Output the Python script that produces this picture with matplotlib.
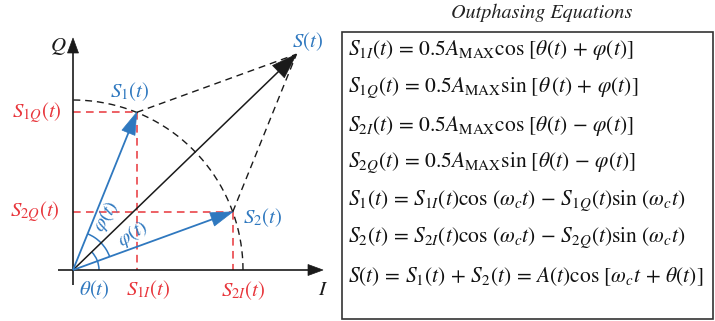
import numpy as np
import matplotlib
matplotlib.use("Agg")
import matplotlib.pyplot as plt
from matplotlib.patches import Polygon, Rectangle, Arc

plt.rcParams['mathtext.fontset'] = 'stix'
plt.rcParams['font.family'] = ['STIXGeneral', 'DejaVu Serif']

# ---- diagram data (phasor values) ----
A_HALF = 1.0          # 0.5*A_MAX, radius of the constant envelope circle
THETA_DEG = 44.0      # theta(t)
PHI_DEG = 24.0        # phi(t)

title_text = "Outphasing Equations"
equations = [
    r"$S_{1I}(t)\,=\,0.5A_{\mathrm{MAX}}\cos\,\left[\theta(t)\,+\,\varphi(t)\right]$",
    r"$S_{1Q}(t)\,=\,0.5A_{\mathrm{MAX}}\sin\,\left[\theta\,(t)\,+\,\varphi(t)\right]$",
    r"$S_{2I}(t)\,=\,0.5A_{\mathrm{MAX}}\cos\,\left[\theta(t)\,-\,\varphi(t)\right]$",
    r"$S_{2Q}(t)\,=\,0.5A_{\mathrm{MAX}}\sin\,\left[\theta(t)\,-\,\varphi(t)\right]$",
    r"$S_1(t)\,=\,S_{1I}(t)\cos\,\left(\omega_c t\right)\,-\,S_{1Q}(t)\sin\,\left(\omega_c t\right)$",
    r"$S_2(t)\,=\,S_{2I}(t)\cos\,\left(\omega_c t\right)\,-\,S_{2Q}(t)\sin\,\left(\omega_c t\right)$",
    r"$S(t)\,=\,S_1(t)\,+\,S_2(t)\,=\,A(t)\cos\,\left[\omega_c t\,+\,\theta(t)\right]$",
]

BLUE = "#2f78bf"
RED = "#e8353b"
BLACK = "#1a1a1a"

# ---- geometry from data ----
th = np.radians(THETA_DEG)
ph = np.radians(PHI_DEG)
S1 = A_HALF * np.array([np.cos(th + ph), np.sin(th + ph)])
S2 = A_HALF * np.array([np.cos(th - ph), np.sin(th - ph)])
S = S1 + S2

SCALE = 170.0   # pixels per unit
OX, OY = 73.0, 270.0
W, H = 715, 321

fig = plt.figure(figsize=(W / 100, H / 100), dpi=100)
ax = fig.add_axes([0, 0, 1, 1])
ax.set_xlim(-OX / SCALE, (W - OX) / SCALE)
ax.set_ylim(-(H - OY) / SCALE, OY / SCALE)
ax.axis('off')


def px(x, y):
    return ((x - OX) / SCALE, (OY - y) / SCALE)


def arrow(p0, p1, color, lw, hl, hw, z=3):
    p0 = np.asarray(p0, float)
    p1 = np.asarray(p1, float)
    d = p1 - p0
    L = np.hypot(*d)
    u = d / L
    n = np.array([-u[1], u[0]])
    hl /= SCALE
    hw /= SCALE
    base = p1 - u * hl
    ax.plot([p0[0], base[0] + u[0] * 0.01], [p0[1], base[1] + u[1] * 0.01],
            color=color, lw=lw, solid_capstyle='butt', zorder=z)
    tri = np.array([p1, base + n * hw / 2, base - n * hw / 2])
    ax.add_patch(Polygon(tri, closed=True, facecolor=color, edgecolor=color,
                         lw=0.5, zorder=z + 0.1))


dash = (0, (5, 3.5))

# red projection lines
for P in (S1, S2):
    ax.plot([0, P[0]], [P[1], P[1]], color=RED, lw=1.1, ls=dash, zorder=1)
    ax.plot([P[0], P[0]], [P[1], 0], color=RED, lw=1.1, ls=dash, zorder=1)

# dashed circle arc
ang = np.linspace(0, np.pi / 2, 200)
ax.plot(A_HALF * np.cos(ang), A_HALF * np.sin(ang), color=BLACK, lw=1.0,
        ls=dash, zorder=1)
# dashed parallelogram sides
ax.plot([S1[0], S[0]], [S1[1], S[1]], color=BLACK, lw=1.0, ls=dash, zorder=1)
ax.plot([S2[0], S[0]], [S2[1], S[1]], color=BLACK, lw=1.0, ls=dash, zorder=1)

# axes
arrow(px(58, 270), px(323, 270), BLACK, 1.2, 15, 11)
arrow(px(73, 285), px(73, 38), BLACK, 1.2, 15, 11)

# vectors
arrow((0, 0), S, BLACK, 1.1, 25, 17)
arrow((0, 0), S1, BLUE, 1.3, 22, 14)
arrow((0, 0), S2, BLUE, 1.3, 22, 14)

# angle arcs
r1 = 26 / SCALE
r2 = 39 / SCALE
ax.add_patch(Arc((0, 0), 2 * r1, 2 * r1, theta1=0, theta2=THETA_DEG,
                 color=BLUE, lw=1.1, zorder=2))
ax.add_patch(Arc((0, 0), 2 * r2, 2 * r2, theta1=THETA_DEG - PHI_DEG,
                 theta2=THETA_DEG, color=BLUE, lw=1.1, zorder=2))
ax.add_patch(Arc((0, 0), 2 * r2, 2 * r2, theta1=THETA_DEG,
                 theta2=THETA_DEG + PHI_DEG, color=BLUE, lw=1.1, zorder=2))

fs = 15
ax.text(*px(58, 47), r"$Q$", fontsize=fs, color=BLACK, ha='center', va='center')
ax.text(*px(323, 290), r"$I$", fontsize=fs, color=BLACK, ha='center', va='center')
ax.text(*px(308, 42), r"$S(t)$", fontsize=fs, color=BLUE, ha='center', va='center')
ax.text(*px(130, 92), r"$S_1(t)$", fontsize=fs, color=BLUE, ha='center', va='center')
ax.text(*px(263, 218), r"$S_2(t)$", fontsize=fs, color=BLUE, ha='center', va='center')
ax.text(*px(94, 290), r"$\theta(t)$", fontsize=fs, color=BLUE, ha='center', va='center')
ax.text(*px(37, 113), r"$S_{1Q}(t)$", fontsize=fs, color=RED, ha='center', va='center')
ax.text(*px(35, 212), r"$S_{2Q}(t)$", fontsize=fs, color=RED, ha='center', va='center')
ax.text(*px(148, 290), r"$S_{1I}(t)$", fontsize=fs, color=RED, ha='center', va='center')
ax.text(*px(243, 291), r"$S_{2I}(t)$", fontsize=fs, color=RED, ha='center', va='center')
ax.text(*px(106, 216), r"$\varphi(t)$", fontsize=14.5, color=BLUE, ha='center',
        va='center', rotation=59)
ax.text(*px(133, 234), r"$\varphi(t)$", fontsize=14.5, color=BLUE, ha='center',
        va='center', rotation=33)

# equations box
x0, y0 = px(342, 319)
x1, y1 = px(713, 32)
ax.add_patch(Rectangle((x0, y0), x1 - x0, y1 - y0, fill=False,
                       edgecolor="#333333", lw=1.2, zorder=1))
ax.text(*px(542, 13), title_text, fontsize=14.5, style='italic', color="#222222",
        ha='center', va='center')
row_y = [50, 88, 126, 163, 201, 238, 277]
for eq, yy in zip(equations, row_y):
    ax.text(*px(348, yy), eq, fontsize=15.5, color="#111111", ha='left', va='center')

fig.savefig("out.png", dpi=100)
